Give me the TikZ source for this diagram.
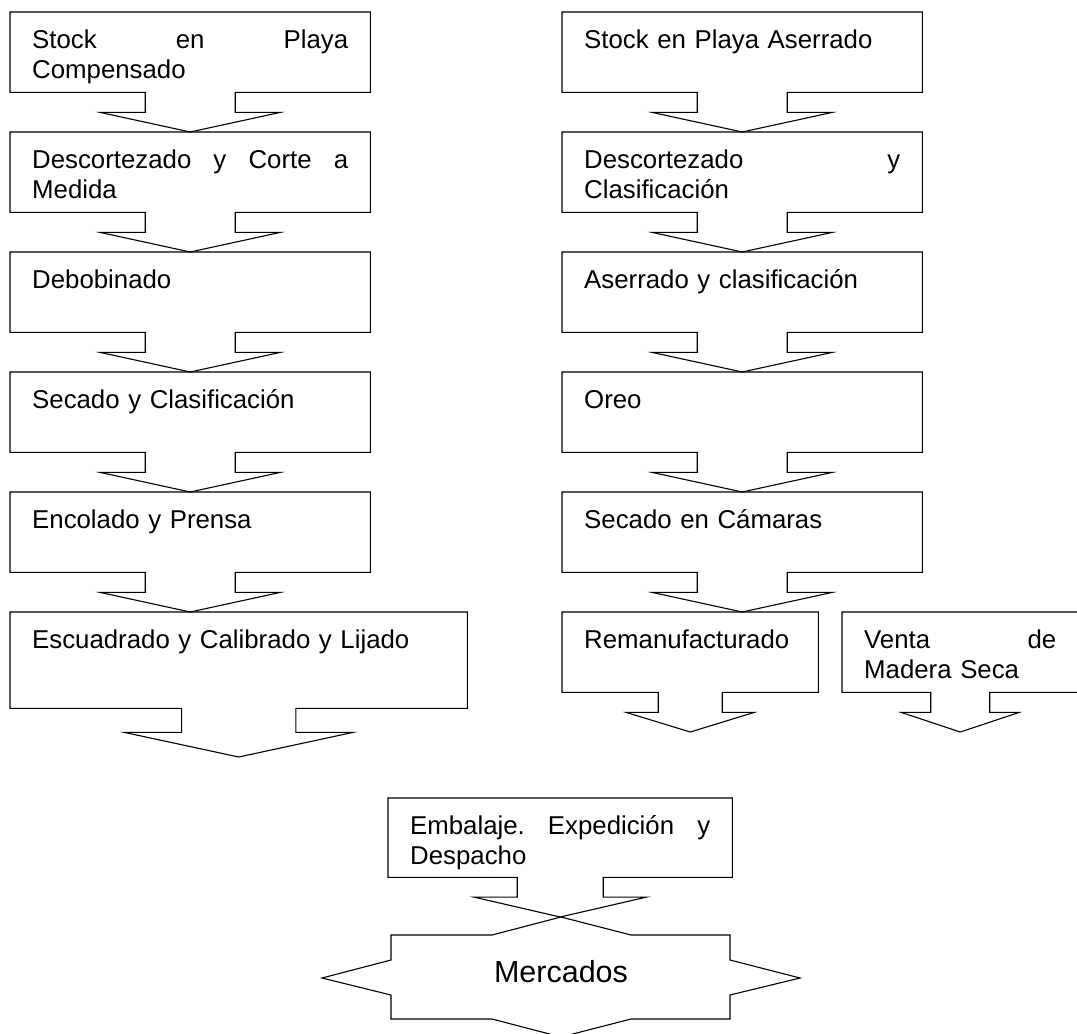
\documentclass[tikz,border=0pt]{standalone}
\usepackage{fontspec}
\setmainfont{Liberation Sans}
\usepackage{tikz}
\usetikzlibrary{calc}
\setlength{\parindent}{0pt}

% caja: nombre, x, y, ancho, alto, texto
\newcommand{\caja}[6]{%
  \pgfmathsetmacro{\anchotexto}{#4-44}
  \node[cajon, minimum width=#4pt, minimum height=#5pt] (#1) at (#2,#3) {};
  \node[texto, text width=\anchotexto pt] (#1t) at ($(#1.north west)+(22,12)$) {\rule{0pt}{24pt}#6};
}
% flecha: caja, punta, ancho, alto
\newcommand{\flecha}[4]{%
  \draw[trazo] ($(#1.south)+(-#3/8,0)$) -- (#1.south west) -- (#1.north west)
    -- (#1.north east) -- (#1.south east) -- ($(#1.south)+(#3/8,0)$)
    -- ($(#1.south)+(#3/8,#4/4)$) -- ($(#1.south)+(#3/4,#4/4)$)
    -- (#2 -| #1.south) -- ($(#1.south)+(-#3/4,#4/4)$)
    -- ($(#1.south)+(-#3/8,#4/4)$) -- cycle;
}
\newcommand{\just}[1]{{\frenchspacing\spaceskip=0pt\xspaceskip=0pt\makebox[\anchotexto pt][s]{#1}}}

\begin{document}
\begin{tikzpicture}[x=1pt, y=-1pt,
  cajon/.style={rectangle, draw=none, inner sep=0pt, anchor=north west},
  texto/.style={anchor=north west, inner sep=0pt, align=left,
    font=\fontsize{25.8pt}{30pt}\selectfont},
  trazo/.style={draw=black, line width=1.1pt, line join=miter}]
\useasboundingbox (0,0) rectangle (1077,1034);

% Compensado
\caja{b1}{10}{12}{360}{80}{\just{Stock en Playa}\\Compensado}
\caja{b2}{10}{132}{360}{80}{\just{Descortezado y Corte a}\\Medida}
\caja{b3}{10}{252}{360}{80}{Debobinado}
\caja{b4}{10}{372}{360}{80}{Secado y Clasificación}
\caja{b5}{10}{492}{360}{80}{Encolado y Prensa}
\caja{b6}{10}{612}{457}{96}{Escuadrado y Calibrado y Lijado}

% Aserrado
\caja{a1}{562}{12}{360}{80}{Stock en Playa Aserrado}
\caja{a2}{562}{132}{360}{80}{\just{Descortezado y}\\Clasificación}
\caja{a3}{562}{252}{360}{80}{Aserrado y clasificación}
\caja{a4}{562}{372}{360}{80}{Oreo}
\caja{a5}{562}{492}{360}{80}{Secado en Cámaras}
\caja{rem}{562}{612}{256}{80}{Remanufacturado}
\caja{ven}{842}{612}{236}{80}{\just{Venta de}\\Madera Seca}

\caja{emb}{388}{798}{344}{79}{\just{Embalaje. Expedición y}\\Despacho}

\coordinate (fin1) at (238,757);
\coordinate (fin2) at (690,732);
\coordinate (fin3) at (960,732);
\coordinate (cruce) at (561,917);

\flecha{b1}{b2.north}{360}{80}
\flecha{b2}{b3.north}{360}{80}
\flecha{b3}{b4.north}{360}{80}
\flecha{b4}{b5.north}{360}{80}
\flecha{b5}{b6.north}{360}{80}
\flecha{b6}{fin1}{457}{96}
\flecha{a1}{a2.north}{360}{80}
\flecha{a2}{a3.north}{360}{80}
\flecha{a3}{a4.north}{360}{80}
\flecha{a4}{a5.north}{360}{80}
\flecha{a5}{rem.north}{360}{80}
\flecha{rem}{fin2}{256}{80}
\flecha{ven}{fin3}{236}{80}
\flecha{emb}{cruce}{344}{79}

% Mercados
\node[anchor=base, inner sep=0pt, font=\fontsize{30.5pt}{36pt}\selectfont] (merc) at (561,982) {Mercados};
\draw[trazo, shift={(merc.base)}] (-170,-47) -- (-69,-47) -- (cruce) -- (70,-47)
  -- (169,-47) -- (169,-22) -- (239,-4) -- (169,13) -- (169,37) -- (70,37)
  -- (0,55) -- (-69,37) -- (-170,37) -- (-170,13) -- (-239,-4) -- (-170,-22) -- cycle;
\end{tikzpicture}
\end{document}
